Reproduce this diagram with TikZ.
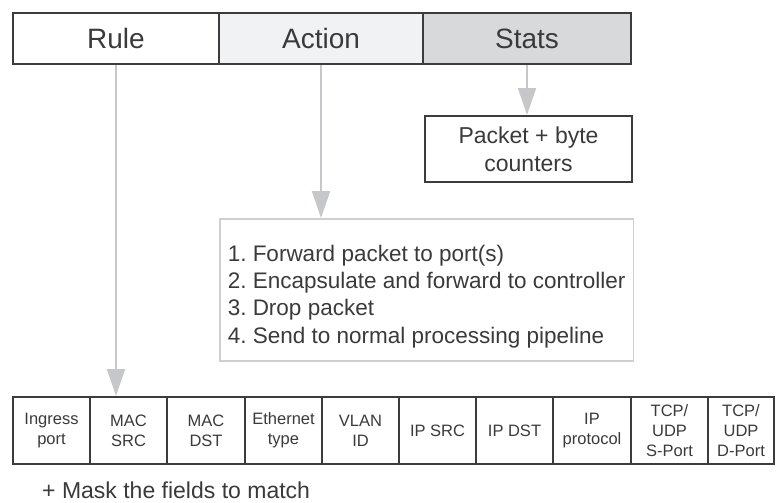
\documentclass[tikz,border=0pt]{standalone}
\usepackage{fontspec}
\setmainfont{Liberation Sans}
\usetikzlibrary{arrows.meta}
\definecolor{ink}{HTML}{3A3A3A}
\definecolor{edge}{HTML}{3C3C3C}
\definecolor{actfill}{HTML}{F1F2F4}
\definecolor{statfill}{HTML}{D8D9DB}
\definecolor{pointer}{HTML}{C6C7CA}
\definecolor{softedge}{HTML}{CFCFD1}
\frenchspacing
\tikzset{
  headcell/.style={draw=edge, line width=2pt, text=ink, minimum height=51pt,
    inner sep=0pt, font=\fontsize{28}{32}\selectfont},
  fieldcell/.style={draw=edge, line width=2pt, text=ink, minimum height=67pt,
    inner sep=0pt, align=center, font=\fontsize{16.5}{20}\selectfont},
  pointerarrow/.style={draw=pointer, line width=2pt,
    -{Triangle[length=27pt,width=18pt,fill=pointer]}},
}
\begin{document}
\begin{tikzpicture}[x=1pt,y=-1pt]
\useasboundingbox (0,0) rectangle (776,503);

% header bar: Rule | Action | Stats
\node[headcell, fill=white, minimum width=206pt] (rule) at (116,38.5) {Rule};
\node[headcell, fill=actfill, minimum width=204pt] (action) at (321,38.5) {Action};
\node[headcell, fill=statfill, minimum width=208pt] (stats) at (527,38.5) {Stats};

% statistics box
\node[draw=edge, line width=2pt, text=ink, minimum width=207pt, minimum height=66pt,
  align=center, font=\fontsize{23}{28}\selectfont] (pkt) at (528.5,149)
  {Packet + byte\\counters};

% action list
\node[draw=softedge, line width=1.5pt, text=ink, anchor=north west,
  inner xsep=8pt, minimum width=413pt, minimum height=142pt, align=left,
  text depth=0pt, font=\fontsize{22.5}{27.3}\selectfont] (actbox) at (219,218)
  {\rule{0pt}{25pt}1. Forward packet to port(s)\\
   2. Encapsulate and forward to controller\\
   3. Drop packet\\
   4. Send to normal processing pipeline};

% header fields that a rule matches
\node[fieldcell, minimum width=77pt] (ingress) at (51.5,430.5) {Ingress\\port};
\node[fieldcell, minimum width=77pt] (macsrc) at (128.5,430.5) {MAC\\SRC};
\node[fieldcell, minimum width=78pt] (macdst) at (206,430.5) {MAC\\DST};
\node[fieldcell, minimum width=77pt] (ethtype) at (283.5,430.5) {Ethernet\\type};
\node[fieldcell, minimum width=77pt] (vlan) at (360.5,430.5) {VLAN\\ID};
\node[fieldcell, minimum width=77pt] (ipsrc) at (437.5,430.5) {IP SRC};
\node[fieldcell, minimum width=77pt] (ipdst) at (514.5,430.5) {IP DST};
\node[fieldcell, minimum width=78pt] (ipproto) at (592,430.5) {IP\\protocol};
\node[fieldcell, minimum width=77pt] (sport) at (669.5,430.5) {TCP/\\UDP\\S-Port};
\node[fieldcell, minimum width=66pt] (dport) at (741,430.5) {TCP/\\UDP\\D-Port};

\node[text=ink, anchor=base west, inner sep=0pt, font=\fontsize{23}{26}\selectfont]
  (mask) at (42,498) {+ Mask the fields to match};

% pointers from the header bar
\draw[pointerarrow] (rule.south) -- (rule.south |- macsrc.north);
\draw[pointerarrow] (action.south) -- (action.south |- actbox.north);
\draw[pointerarrow] (stats.south) -- (stats.south |- pkt.north);
\end{tikzpicture}
\end{document}
